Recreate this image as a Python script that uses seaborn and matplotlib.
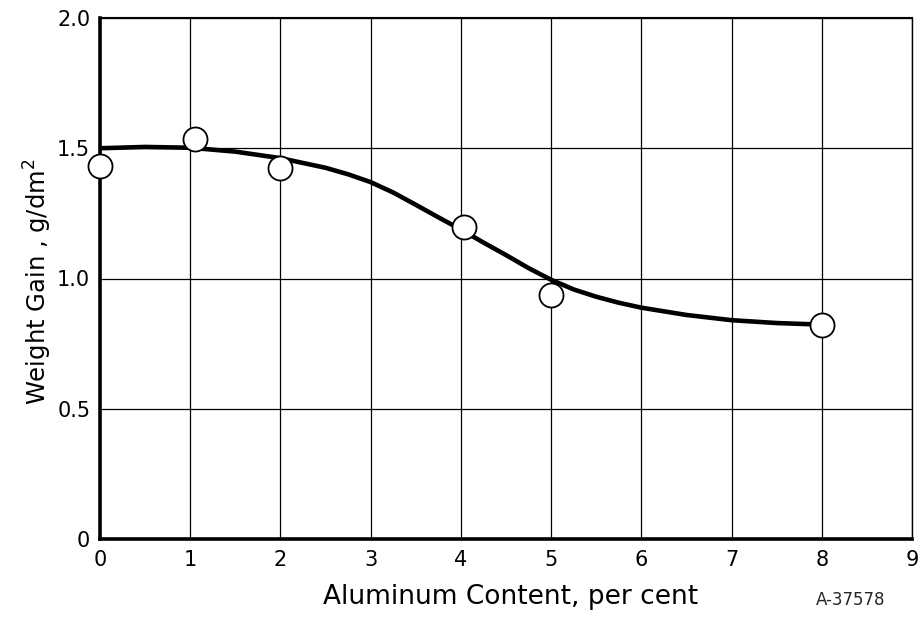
import matplotlib
matplotlib.use("Agg")
import matplotlib.pyplot as plt
import seaborn as sns
import pandas as pd

# Measured data points (open circles)
aluminum_pct = [0.0, 1.05, 2.0, 4.03, 5.0, 8.0]
weight_gain = [1.43, 1.535, 1.423, 1.196, 0.938, 0.823]

# Hand-drawn smooth curve
curve_x = [0.0, 0.5, 1.0, 1.5, 2.0, 2.5, 2.75, 3.0, 3.25, 3.5, 3.75, 4.0, 4.25, 4.5,
           4.75, 5.0, 5.25, 5.5, 5.75, 6.0, 6.5, 7.0, 7.5, 8.0]
curve_y = [1.50, 1.505, 1.502, 1.487, 1.462, 1.425, 1.40, 1.37, 1.33, 1.283, 1.235,
           1.188, 1.138, 1.09, 1.04, 0.995, 0.958, 0.93, 0.907, 0.888, 0.86, 0.84,
           0.829, 0.823]

x_ticks = [0, 1, 2, 3, 4, 5, 6, 7, 8, 9]
x_tick_labels = ["0", "1", "2", "3", "4", "5", "6", "7", "8", "9"]
y_ticks = [0, 0.5, 1.0, 1.5, 2.0]
y_tick_labels = ["0", "0.5", "1.0", "1.5", "2.0"]

sns.set_theme(style="white")
plt.rcParams["font.family"] = ["DejaVu Sans"]

fig = plt.figure(figsize=(9.19, 6.18), dpi=100)
ax = fig.add_axes([100 / 919, 1 - 539 / 618, 812 / 919, 521 / 618])

pts = pd.DataFrame({"x": aluminum_pct, "y": weight_gain})
crv = pd.DataFrame({"x": curve_x, "y": curve_y})

sns.lineplot(data=crv, x="x", y="y", ax=ax, color="black", linewidth=3.3,
             zorder=3, sort=True, solid_capstyle="round", solid_joinstyle="round")
sns.scatterplot(data=pts, x="x", y="y", ax=ax, s=300, facecolor="white",
                edgecolor="black", linewidth=1.3, zorder=4, clip_on=False)

ax.set_xlim(0, 9)
ax.set_ylim(0, 2.0)
ax.set_xticks(x_ticks)
ax.set_xticklabels(x_tick_labels)
ax.set_yticks(y_ticks)
ax.set_yticklabels(y_tick_labels)
ax.tick_params(axis="both", length=0, labelsize=15, colors="black")
ax.tick_params(axis="x", pad=8)
ax.tick_params(axis="y", pad=7)

ax.grid(True, color="black", linewidth=0.9)
ax.set_axisbelow(True)

for side, lw in [("left", 2.6), ("bottom", 2.6), ("top", 1.5), ("right", 1.0)]:
    ax.spines[side].set_visible(True)
    ax.spines[side].set_color("black")
    ax.spines[side].set_linewidth(lw)

ax.set_xlabel("Aluminum Content, per cent", fontsize=19, color="black", va="center")
ax.xaxis.set_label_coords((511 - 100) / 812, (539 - 597) / 521)
ax.set_ylabel("Weight Gain , g/dm$^2$", fontsize=17.5, color="black", va="center")
ax.yaxis.set_label_coords((38 - 100) / 812, (539 - 282) / 521)
fig.text(851 / 919, 1 - 600 / 618, "A-37578", fontsize=12, ha="center", va="center")

fig.savefig("out.png", dpi=100, facecolor="white")
